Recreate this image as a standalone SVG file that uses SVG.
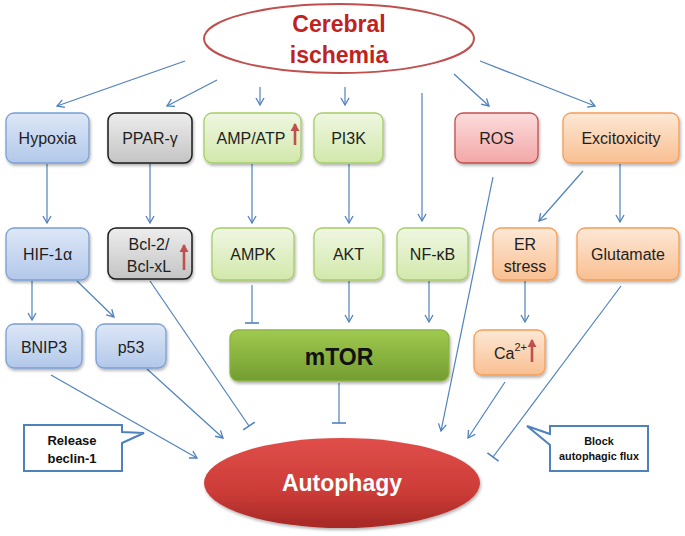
<svg xmlns="http://www.w3.org/2000/svg" width="685" height="536" viewBox="0 0 685 536">
<defs>
<linearGradient id="gBlue" x1="0" y1="0" x2="0" y2="1"><stop offset="0" stop-color="#dde7f6"/><stop offset="1" stop-color="#b2c8ea"/></linearGradient>
<linearGradient id="gGray" x1="0" y1="0" x2="0" y2="1"><stop offset="0" stop-color="#ededed"/><stop offset="1" stop-color="#c4c4c4"/></linearGradient>
<linearGradient id="gGreen" x1="0" y1="0" x2="0" y2="1"><stop offset="0" stop-color="#eff7e2"/><stop offset="1" stop-color="#d2e8ab"/></linearGradient>
<linearGradient id="gPink" x1="0" y1="0" x2="0" y2="1"><stop offset="0" stop-color="#fcdcdc"/><stop offset="1" stop-color="#f3a7a7"/></linearGradient>
<linearGradient id="gOrange" x1="0" y1="0" x2="0" y2="1"><stop offset="0" stop-color="#fde8d6"/><stop offset="1" stop-color="#f9bf91"/></linearGradient>
<linearGradient id="gMtor" x1="0" y1="0" x2="0" y2="1"><stop offset="0" stop-color="#a0c94e"/><stop offset="1" stop-color="#739d31"/></linearGradient>
<linearGradient id="gAuto" x1="0" y1="0" x2="0" y2="1"><stop offset="0" stop-color="#e04e4a"/><stop offset="0.6" stop-color="#cc3c38"/><stop offset="1" stop-color="#a52825"/></linearGradient>
<filter id="sh" x="-20%" y="-20%" width="140%" height="150%"><feDropShadow dx="1" dy="2" stdDeviation="1.5" flood-color="#000" flood-opacity="0.3"/></filter>
<marker id="arr" markerUnits="userSpaceOnUse" markerWidth="12" markerHeight="12" viewBox="-10 -6 12 12" refX="0" refY="0" orient="auto"><path d="M-7,-4 L0,0 L-7,4" fill="none" stroke="#4f81bd" stroke-width="1.3"/></marker>
<marker id="tee" markerUnits="userSpaceOnUse" markerWidth="16" markerHeight="16" viewBox="-8 -8 16 16" refX="0" refY="0" orient="auto"><path d="M0,-7 L0,7" fill="none" stroke="#4f81bd" stroke-width="1.6"/></marker>
<marker id="red" markerUnits="userSpaceOnUse" markerWidth="12" markerHeight="12" viewBox="-10 -6 12 12" refX="0" refY="0" orient="auto"><path d="M-7,-4.5 L1,0 L-7,4.5 Z" fill="#c0504d"/></marker>
<style>
.t{font-family:"Liberation Sans",Arial,sans-serif;font-size:16px;fill:#1e1e1e;text-anchor:middle}
.s{text-anchor:start}
.c{stroke:#4f81bd;stroke-width:1.2;fill:none}
.a{marker-end:url(#arr)}
.i{marker-end:url(#tee)}
.bb{fill:url(#gBlue);stroke:#7b9fd3;stroke-width:1.3}
.bg{fill:url(#gGray);stroke:#1a1a1a;stroke-width:1.5}
.bn{fill:url(#gGreen);stroke:#a6cc68;stroke-width:1.3}
.bp{fill:url(#gPink);stroke:#c0504d;stroke-width:1.3}
.bo{fill:url(#gOrange);stroke:#f59d56;stroke-width:1.3}
.up{stroke:#c0504d;stroke-width:2.6;fill:none;marker-end:url(#red)}
.call{fill:#fff;stroke:#4f81bd;stroke-width:2}
.ct{font-family:"Liberation Sans",Arial,sans-serif;font-weight:bold;fill:#111;text-anchor:middle}
</style>
</defs>
<rect width="685" height="536" fill="#fff"/>

<g id="connectors">
<line class="c a" x1="185" y1="61" x2="57" y2="106"/>
<line class="c a" x1="217" y1="80" x2="167" y2="106"/>
<line class="c a" x1="260" y1="87" x2="260" y2="105"/>
<line class="c a" x1="345" y1="87" x2="345" y2="105"/>
<line class="c a" x1="422" y1="93" x2="422" y2="221"/>
<line class="c a" x1="454" y1="74" x2="489" y2="106"/>
<line class="c a" x1="480" y1="61" x2="595" y2="106"/>
<line class="c a" x1="47" y1="164" x2="47" y2="223"/>
<line class="c a" x1="150" y1="164" x2="150" y2="223"/>
<line class="c a" x1="252" y1="164" x2="252" y2="223"/>
<line class="c a" x1="349" y1="164" x2="349" y2="223"/>
<line class="c a" x1="583" y1="171" x2="539" y2="221"/>
<line class="c a" x1="620" y1="164" x2="620" y2="222"/>
<line class="c a" x1="493" y1="177" x2="441" y2="431"/>
<line class="c a" x1="32" y1="281" x2="32" y2="320"/>
<line class="c a" x1="77" y1="281" x2="114" y2="317"/>
<line class="c i" x1="150" y1="281" x2="249" y2="426"/>
<line class="c i" x1="252" y1="285" x2="252" y2="323"/>
<line class="c a" x1="349" y1="281" x2="349" y2="322"/>
<line class="c a" x1="429" y1="281" x2="429" y2="322"/>
<line class="c a" x1="525" y1="281" x2="525" y2="322"/>
<line class="c i" x1="621" y1="286" x2="493" y2="457"/>
<line class="c a" x1="51" y1="375" x2="197" y2="458"/>
<line class="c a" x1="147" y1="369" x2="223" y2="438"/>
<line class="c i" x1="339" y1="383" x2="339" y2="423"/>
<line class="c a" x1="505" y1="382" x2="468" y2="438"/>
</g>

<g id="cerebral">
<ellipse cx="339" cy="38.5" rx="135" ry="34.5" fill="#fff" stroke="#c0504d" stroke-width="2"/>
<text x="339" y="32" font-family="Liberation Sans,Arial,sans-serif" font-size="23" font-weight="bold" fill="#c0231f" text-anchor="middle">Cerebral</text>
<text x="339" y="63" font-family="Liberation Sans,Arial,sans-serif" font-size="23" font-weight="bold" fill="#c0231f" text-anchor="middle">ischemia</text>
</g>

<g id="hypoxia"><rect class="bb" x="6" y="113" width="83" height="50" rx="8" filter="url(#sh)"/><text class="t" x="47.5" y="144">Hypoxia</text></g>
<g id="ppar"><rect class="bg" x="108" y="113" width="84" height="50" rx="8" filter="url(#sh)"/><text class="t" x="150" y="144">PPAR-γ</text></g>
<g id="ampatp"><rect class="bn" x="204" y="113" width="97" height="50" rx="8" filter="url(#sh)"/><text class="t" x="251" y="144">AMP/ATP</text><line class="up" x1="295" y1="145" x2="295" y2="124"/></g>
<g id="pi3k"><rect class="bn" x="314" y="113" width="69" height="50" rx="8" filter="url(#sh)"/><text class="t" x="348.5" y="144">PI3K</text></g>
<g id="ros"><rect class="bp" x="455" y="113" width="83" height="50" rx="8" filter="url(#sh)"/><text class="t" x="496.5" y="144">ROS</text></g>
<g id="excitoxicity"><rect class="bo" x="563" y="113" width="116" height="50" rx="8" filter="url(#sh)"/><text class="t" x="621" y="144">Excitoxicity</text></g>

<g id="hif"><rect class="bb" x="6" y="228" width="83" height="52" rx="8" filter="url(#sh)"/><text class="t" x="47.5" y="260">HIF-1α</text></g>
<g id="bcl"><rect class="bg" x="108" y="228" width="84" height="51" rx="8" filter="url(#sh)"/><text class="t" x="149" y="250">Bcl-2/</text><text class="t" x="149" y="272">Bcl-xL</text><line class="up" x1="184" y1="270" x2="184" y2="245"/></g>
<g id="ampk"><rect class="bn" x="212" y="228" width="82" height="52" rx="8" filter="url(#sh)"/><text class="t" x="253" y="260">AMPK</text></g>
<g id="akt"><rect class="bn" x="314" y="228" width="69" height="52" rx="8" filter="url(#sh)"/><text class="t" x="348.5" y="260">AKT</text></g>
<g id="nfkb"><rect class="bn" x="397" y="228" width="71" height="52" rx="8" filter="url(#sh)"/><text class="t" x="432.5" y="260">NF-κB</text></g>
<g id="er"><rect class="bo" x="493" y="228" width="64" height="52" rx="8" filter="url(#sh)"/><text class="t" x="525" y="250">ER</text><text class="t" x="525" y="272">stress</text></g>
<g id="glutamate"><rect class="bo" x="577" y="228" width="102" height="52" rx="8" filter="url(#sh)"/><text class="t" x="628" y="260">Glutamate</text></g>

<g id="bnip3"><rect class="bb" x="6" y="324" width="76" height="44" rx="8" filter="url(#sh)"/><text class="t" x="44" y="353">BNIP3</text></g>
<g id="p53"><rect class="bb" x="96" y="324" width="70" height="44" rx="8" filter="url(#sh)"/><text class="t" x="131" y="353">p53</text></g>
<g id="mtor"><rect x="230" y="330" width="219" height="51" rx="8" fill="url(#gMtor)" stroke="#8db444" stroke-width="1.3" filter="url(#sh)"/><text x="339" y="365" font-family="Liberation Sans,Arial,sans-serif" font-size="23" font-weight="bold" fill="#111" text-anchor="middle">mTOR</text></g>
<g id="ca"><rect class="bo" x="474" y="330" width="71" height="45" rx="8" filter="url(#sh)"/><text class="t s" x="494" y="359">Ca<tspan font-size="11" dy="-8">2+</tspan></text><line class="up" x1="532" y1="362" x2="532" y2="340"/></g>

<g id="autophagy"><ellipse cx="342" cy="483" rx="138" ry="45" fill="url(#gAuto)" filter="url(#sh)"/><text x="342" y="491" font-family="Liberation Sans,Arial,sans-serif" font-size="23" font-weight="bold" fill="#fff" text-anchor="middle">Autophagy</text></g>

<g id="release">
<path class="call" d="M24,425 H122 V432 L144,433 L122,443 V471 H24 Z"/>
<text class="ct" x="72" y="445" font-size="13">Release</text>
<text class="ct" x="72" y="463" font-size="13">beclin-1</text>
</g>
<g id="block">
<path class="call" d="M550,426 H648 V471 H550 V445 L527,426 L550,434 Z"/>
<text class="ct" x="599" y="445" font-size="10.8">Block</text>
<text class="ct" x="599" y="460" font-size="10.8">autophagic flux</text>
</g>
</svg>
